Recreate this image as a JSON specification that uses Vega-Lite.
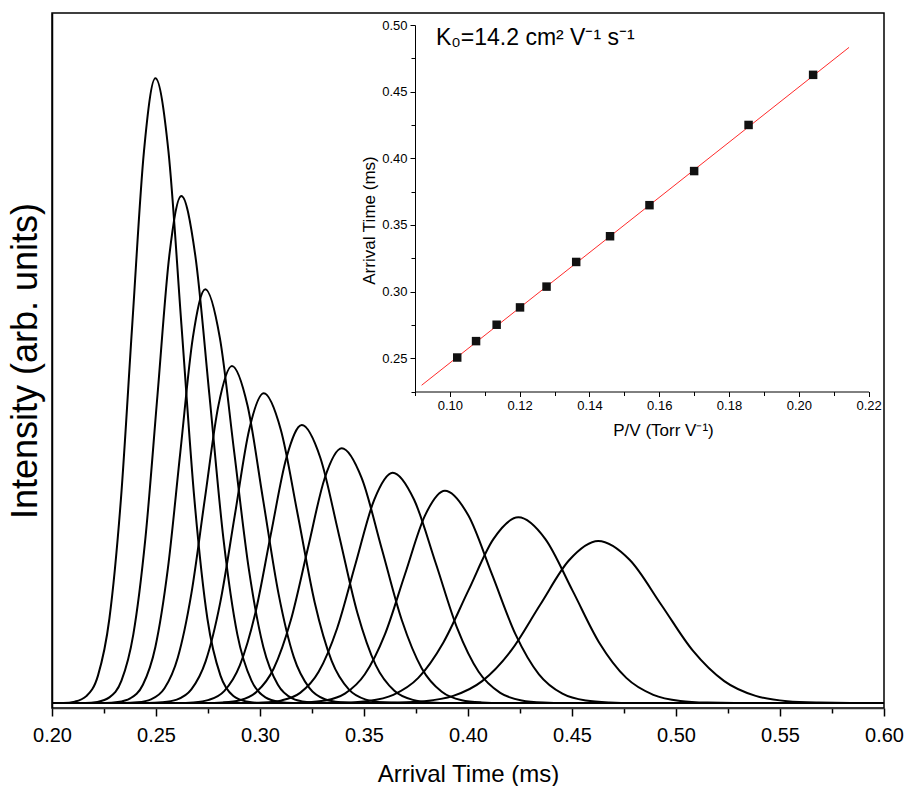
{
  "$schema": "https://vega.github.io/schema/vega-lite/v6.json",
  "width": 832,
  "height": 695,
  "autosize": "none",
  "padding": {"left": 52, "top": 13, "right": 20, "bottom": 78},
  "background": "white",
  "config": {
    "view": {"stroke": "#000", "strokeWidth": 1.5},
    "font": "Liberation Sans",
    "axis": {"grid": false, "labelFont": "Liberation Sans", "titleFont": "Liberation Sans", "titleFontWeight": "normal", "labelColor": "#000", "titleColor": "#000", "domainColor": "#000", "tickColor": "#000", "labelFlush": false, "labelOverlap": false}
  },
  "datasets": {
    "peaks": [
      {"c":1,"t":0.2,"v":0},{"c":1,"t":0.2055,"v":0},{"c":1,"t":0.2110,"v":1.4},{"c":1,"t":0.2165,"v":6.9},{"c":1,"t":0.2221,"v":27.4},{"c":1,"t":0.2276,"v":84.5},{"c":1,"t":0.2331,"v":202.8},{"c":1,"t":0.2386,"v":378.9},{"c":1,"t":0.2442,"v":551.3},{"c":1,"t":0.2497,"v":624.7},{"c":1,"t":0.2560,"v":551.3},{"c":1,"t":0.2622,"v":378.9},{"c":1,"t":0.2685,"v":202.8},{"c":1,"t":0.2747,"v":84.5},{"c":1,"t":0.2810,"v":27.4},{"c":1,"t":0.2872,"v":6.9},{"c":1,"t":0.2935,"v":1.4},{"c":1,"t":0.2997,"v":0},{"c":1,"t":0.6,"v":0},
      {"c":2,"t":0.2,"v":0},{"c":2,"t":0.2160,"v":0},{"c":2,"t":0.2218,"v":1.1},{"c":2,"t":0.2276,"v":5.6},{"c":2,"t":0.2334,"v":22.3},{"c":2,"t":0.2391,"v":68.6},{"c":2,"t":0.2449,"v":164.6},{"c":2,"t":0.2507,"v":307.5},{"c":2,"t":0.2564,"v":447.4},{"c":2,"t":0.2622,"v":507},{"c":2,"t":0.2689,"v":447.4},{"c":2,"t":0.2757,"v":307.5},{"c":2,"t":0.2824,"v":164.6},{"c":2,"t":0.2891,"v":68.6},{"c":2,"t":0.2959,"v":22.3},{"c":2,"t":0.3026,"v":5.6},{"c":2,"t":0.3093,"v":1.1},{"c":2,"t":0.3160,"v":0},{"c":2,"t":0.6,"v":0},
      {"c":3,"t":0.2,"v":0},{"c":3,"t":0.2256,"v":0},{"c":3,"t":0.2316,"v":0.9},{"c":3,"t":0.2376,"v":4.6},{"c":3,"t":0.2437,"v":18.2},{"c":3,"t":0.2497,"v":56.0},{"c":3,"t":0.2557,"v":134.3},{"c":3,"t":0.2617,"v":250.9},{"c":3,"t":0.2677,"v":365.1},{"c":3,"t":0.2737,"v":413.7},{"c":3,"t":0.2807,"v":365.1},{"c":3,"t":0.2876,"v":250.9},{"c":3,"t":0.2946,"v":134.3},{"c":3,"t":0.3016,"v":56.0},{"c":3,"t":0.3086,"v":18.2},{"c":3,"t":0.3155,"v":4.6},{"c":3,"t":0.3225,"v":0.9},{"c":3,"t":0.3295,"v":0},{"c":3,"t":0.6,"v":0},
      {"c":4,"t":0.2,"v":0},{"c":4,"t":0.2346,"v":0},{"c":4,"t":0.2411,"v":0.7},{"c":4,"t":0.2476,"v":3.7},{"c":4,"t":0.2541,"v":14.8},{"c":4,"t":0.2605,"v":45.6},{"c":4,"t":0.2670,"v":109.4},{"c":4,"t":0.2735,"v":204.4},{"c":4,"t":0.2800,"v":297.4},{"c":4,"t":0.2865,"v":337},{"c":4,"t":0.2940,"v":297.4},{"c":4,"t":0.3014,"v":204.4},{"c":4,"t":0.3089,"v":109.4},{"c":4,"t":0.3163,"v":45.6},{"c":4,"t":0.3238,"v":14.8},{"c":4,"t":0.3312,"v":3.7},{"c":4,"t":0.3387,"v":0.7},{"c":4,"t":0.3461,"v":0},{"c":4,"t":0.6,"v":0},
      {"c":5,"t":0.2,"v":0},{"c":5,"t":0.2460,"v":0},{"c":5,"t":0.2530,"v":0.7},{"c":5,"t":0.2600,"v":3.4},{"c":5,"t":0.2670,"v":13.6},{"c":5,"t":0.2739,"v":41.9},{"c":5,"t":0.2809,"v":100.6},{"c":5,"t":0.2879,"v":187.8},{"c":5,"t":0.2948,"v":273.3},{"c":5,"t":0.3018,"v":309.7},{"c":5,"t":0.3100,"v":273.3},{"c":5,"t":0.3182,"v":187.8},{"c":5,"t":0.3263,"v":100.6},{"c":5,"t":0.3345,"v":41.9},{"c":5,"t":0.3427,"v":13.6},{"c":5,"t":0.3509,"v":3.4},{"c":5,"t":0.3590,"v":0.7},{"c":5,"t":0.3672,"v":0},{"c":5,"t":0.6,"v":0},
      {"c":6,"t":0.2,"v":0},{"c":6,"t":0.2605,"v":0},{"c":6,"t":0.2680,"v":0.6},{"c":6,"t":0.2754,"v":3.1},{"c":6,"t":0.2829,"v":12.2},{"c":6,"t":0.2903,"v":37.6},{"c":6,"t":0.2978,"v":90.3},{"c":6,"t":0.3052,"v":168.6},{"c":6,"t":0.3127,"v":245.3},{"c":6,"t":0.3201,"v":278},{"c":6,"t":0.3290,"v":245.3},{"c":6,"t":0.3379,"v":168.6},{"c":6,"t":0.3468,"v":90.3},{"c":6,"t":0.3557,"v":37.6},{"c":6,"t":0.3646,"v":12.2},{"c":6,"t":0.3735,"v":3.1},{"c":6,"t":0.3824,"v":0.6},{"c":6,"t":0.3913,"v":0},{"c":6,"t":0.6,"v":0},
      {"c":7,"t":0.2,"v":0},{"c":7,"t":0.2739,"v":0},{"c":7,"t":0.2821,"v":0.6},{"c":7,"t":0.2903,"v":2.8},{"c":7,"t":0.2984,"v":11.2},{"c":7,"t":0.3066,"v":34.5},{"c":7,"t":0.3148,"v":82.7},{"c":7,"t":0.3230,"v":154.5},{"c":7,"t":0.3311,"v":224.8},{"c":7,"t":0.3393,"v":254.7},{"c":7,"t":0.3489,"v":224.8},{"c":7,"t":0.3585,"v":154.5},{"c":7,"t":0.3682,"v":82.7},{"c":7,"t":0.3778,"v":34.5},{"c":7,"t":0.3874,"v":11.2},{"c":7,"t":0.3970,"v":2.8},{"c":7,"t":0.4066,"v":0.6},{"c":7,"t":0.4162,"v":0},{"c":7,"t":0.6,"v":0},
      {"c":8,"t":0.2,"v":0},{"c":8,"t":0.2926,"v":0},{"c":8,"t":0.3015,"v":0.5},{"c":8,"t":0.3104,"v":2.6},{"c":8,"t":0.3193,"v":10.1},{"c":8,"t":0.3282,"v":31.2},{"c":8,"t":0.3371,"v":74.8},{"c":8,"t":0.3460,"v":139.7},{"c":8,"t":0.3549,"v":203.2},{"c":8,"t":0.3638,"v":230.3},{"c":8,"t":0.3741,"v":203.2},{"c":8,"t":0.3845,"v":139.7},{"c":8,"t":0.3948,"v":74.8},{"c":8,"t":0.4051,"v":31.2},{"c":8,"t":0.4155,"v":10.1},{"c":8,"t":0.4258,"v":2.6},{"c":8,"t":0.4362,"v":0.5},{"c":8,"t":0.4465,"v":0},{"c":8,"t":0.6,"v":0},
      {"c":9,"t":0.2,"v":0},{"c":9,"t":0.3120,"v":0},{"c":9,"t":0.3216,"v":0.5},{"c":9,"t":0.3312,"v":2.4},{"c":9,"t":0.3408,"v":9.3},{"c":9,"t":0.3504,"v":28.7},{"c":9,"t":0.3601,"v":68.9},{"c":9,"t":0.3697,"v":128.8},{"c":9,"t":0.3793,"v":187.4},{"c":9,"t":0.3889,"v":212.3},{"c":9,"t":0.4002,"v":187.4},{"c":9,"t":0.4115,"v":128.8},{"c":9,"t":0.4228,"v":68.9},{"c":9,"t":0.4341,"v":28.7},{"c":9,"t":0.4454,"v":9.3},{"c":9,"t":0.4567,"v":2.4},{"c":9,"t":0.4680,"v":0.5},{"c":9,"t":0.4793,"v":0},{"c":9,"t":0.6,"v":0},
      {"c":10,"t":0.2,"v":0},{"c":10,"t":0.3280,"v":0},{"c":10,"t":0.3401,"v":0.4},{"c":10,"t":0.3521,"v":2.1},{"c":10,"t":0.3641,"v":8.2},{"c":10,"t":0.3761,"v":25.1},{"c":10,"t":0.3881,"v":60.3},{"c":10,"t":0.4002,"v":112.6},{"c":10,"t":0.4122,"v":163.9},{"c":10,"t":0.4242,"v":185.7},{"c":10,"t":0.4372,"v":163.9},{"c":10,"t":0.4502,"v":112.6},{"c":10,"t":0.4631,"v":60.3},{"c":10,"t":0.4761,"v":25.1},{"c":10,"t":0.4891,"v":8.2},{"c":10,"t":0.5021,"v":2.1},{"c":10,"t":0.5151,"v":0.4},{"c":10,"t":0.5280,"v":0},{"c":10,"t":0.6,"v":0},
      {"c":11,"t":0.2,"v":0},{"c":11,"t":0.3511,"v":0},{"c":11,"t":0.3650,"v":0.4},{"c":11,"t":0.3790,"v":1.8},{"c":11,"t":0.3929,"v":7.1},{"c":11,"t":0.4068,"v":21.9},{"c":11,"t":0.4208,"v":52.6},{"c":11,"t":0.4347,"v":98.3},{"c":11,"t":0.4487,"v":143.0},{"c":11,"t":0.4626,"v":162},{"c":11,"t":0.4778,"v":143.0},{"c":11,"t":0.4929,"v":98.3},{"c":11,"t":0.5080,"v":52.6},{"c":11,"t":0.5232,"v":21.9},{"c":11,"t":0.5383,"v":7.1},{"c":11,"t":0.5535,"v":1.8},{"c":11,"t":0.5686,"v":0.4},{"c":11,"t":0.5838,"v":0},{"c":11,"t":0.6,"v":0}
    ],
    "pts": [
      {"pv":0.1021,"at":0.2505},{"pv":0.1075,"at":0.2628},{"pv":0.1134,"at":0.2751},{"pv":0.1201,"at":0.2881},{"pv":0.1277,"at":0.3037},{"pv":0.1362,"at":0.3222},{"pv":0.1459,"at":0.3415},{"pv":0.1572,"at":0.3648},{"pv":0.1700,"at":0.3904},{"pv":0.1856,"at":0.4250},{"pv":0.2041,"at":0.4626}
    ],
    "fit": [
      {"pv":0.0919,"at":0.2297},{"pv":0.2144,"at":0.4832}
    ]
  },
  "layer": [
    {
      "data": {"name": "peaks"},
      "mark": {"type": "line", "color": "#000", "strokeWidth": 2, "interpolate": "monotone"},
      "encoding": {
        "x": {
          "field": "t", "type": "quantitative",
          "scale": {"domain": [0.2, 0.6], "nice": false, "zero": false},
          "axis": {
            "values": [0.2,0.225,0.25,0.275,0.3,0.325,0.35,0.375,0.4,0.425,0.45,0.475,0.5,0.525,0.55,0.575,0.6],
            "tickSize": {"condition": {"test": "round(datum.value*1000) % 50 === 0", "value": 8}, "value": 5},
            "tickWidth": 1.5,
            "domainWidth": 1.5,
            "domainColor": "#333",
            "labelExpr": "round(datum.value*1000) % 50 === 0 ? format(datum.value, '.2f') : ''",
            "labelFontSize": 20,
            "labelPadding": 9,
            "title": "Arrival Time (ms)",
            "titleFontSize": 24,
            "titlePadding": 17
          }
        },
        "y": {
          "field": "v", "type": "quantitative",
          "scale": {"domain": [-5, 690], "nice": false, "zero": false},
          "axis": {"title": "Intensity (arb. units)", "labels": false, "ticks": false, "domainWidth": 1.5, "titleFontSize": 36, "titlePadding": 8}
        },
        "detail": {"field": "c", "type": "nominal"}
      }
    },
    {
      "data": {"name": "fit"},
      "mark": {"type": "line", "color": "#ff2a2a", "strokeWidth": 1},
      "encoding": {
        "x": {
          "field": "pv", "type": "quantitative",
          "scale": {"domain": [0.09, 0.22], "range": [363, 816.6], "nice": false, "zero": false},
          "axis": {
            "orient": "bottom",
            "offset": -316.5,
            "values": [0.09,0.1,0.11,0.12,0.13,0.14,0.15,0.16,0.17,0.18,0.19,0.2,0.21,0.22],
            "tickSize": {"condition": {"test": "round(datum.value*100) % 2 === 0", "value": 5}, "value": 4},
            "tickWidth": 1,
            "domainWidth": 1,
            "labelExpr": "round(datum.value*100) % 2 === 0 ? format(datum.value, '.2f') : ''",
            "labelFontSize": 13,
            "labelPadding": 3,
            "title": "P/V (Torr V⁻¹)",
            "titleFontSize": 17,
            "titlePadding": 10,
            "titleX": 611
          }
        },
        "y": {
          "field": "at", "type": "quantitative",
          "scale": {"domain": [0.225, 0.5], "range": [378.5, 12], "nice": false, "zero": false},
          "axis": {
            "orient": "left",
            "offset": -363,
            "values": [0.225,0.25,0.275,0.3,0.325,0.35,0.375,0.4,0.425,0.45,0.475,0.5],
            "tickSize": {"condition": {"test": "round(datum.value*1000) % 50 === 0", "value": 5}, "value": 4},
            "tickWidth": 1,
            "domainWidth": 1,
            "labelExpr": "round(datum.value*1000) % 50 === 0 ? format(datum.value, '.2f') : ''",
            "labelFontSize": 13,
            "labelPadding": 3,
            "title": "Arrival Time (ms)",
            "titleFontSize": 17,
            "titlePadding": 3,
            "titleY": 207
          }
        }
      }
    },
    {
      "data": {"name": "pts"},
      "mark": {"type": "point", "shape": "square", "filled": true, "size": 72, "color": "#111", "opacity": 1},
      "encoding": {
        "x": {"field": "pv", "type": "quantitative", "scale": {"domain": [0.09, 0.22], "range": [363, 816.6], "nice": false, "zero": false}, "axis": null},
        "y": {"field": "at", "type": "quantitative", "scale": {"domain": [0.225, 0.5], "range": [378.5, 12], "nice": false, "zero": false}, "axis": null}
      }
    },
    {
      "data": {"values": [{}]},
      "mark": {"type": "text", "align": "left", "baseline": "alphabetic", "fontSize": 23, "font": "Liberation Sans", "color": "#000"},
      "encoding": {
        "x": {"datum": 0.096, "type": "quantitative", "scale": {"domain": [0.09, 0.22], "range": [363, 816.6], "nice": false, "zero": false}, "axis": null},
        "y": {"datum": 0.485, "type": "quantitative", "scale": {"domain": [0.225, 0.5], "range": [378.5, 12], "nice": false, "zero": false}, "axis": null},
        "text": {"value": "K₀=14.2 cm² V⁻¹ s⁻¹"}
      }
    }
  ],
  "resolve": {"scale": {"x": "independent", "y": "independent"}, "axis": {"x": "independent", "y": "independent"}}
}
